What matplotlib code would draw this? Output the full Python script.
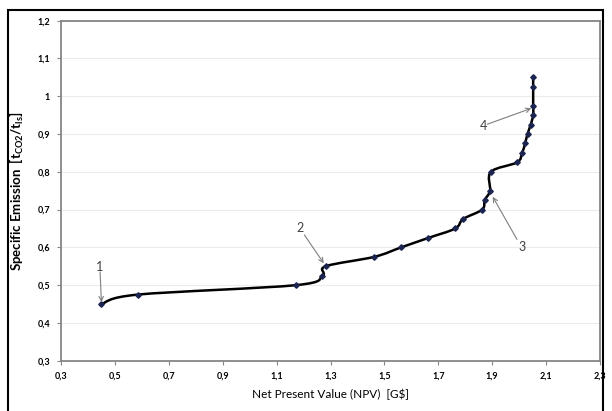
import numpy as np
import matplotlib
matplotlib.use("Agg")
import matplotlib.pyplot as plt
from matplotlib.path import Path
from matplotlib.patches import PathPatch, Rectangle
from matplotlib.ticker import FuncFormatter, FixedLocator

plt.rcParams['font.family'] = ['Lato', 'DejaVu Sans']

npv = [0.45, 0.585, 1.172, 1.27, 1.282, 1.463, 1.562, 1.663, 1.763, 1.792,
       1.863, 1.872, 1.892, 1.895, 1.992, 2.011, 2.022, 2.031, 2.043, 2.052,
       2.052, 2.052, 2.052]
emission = [0.45, 0.475, 0.5, 0.525, 0.55, 0.575, 0.6, 0.625, 0.65, 0.675,
            0.7, 0.725, 0.75, 0.8, 0.825, 0.85, 0.875, 0.9, 0.925, 0.95,
            0.975, 1.025, 1.05]

x_ticks = [0.3, 0.5, 0.7, 0.9, 1.1, 1.3, 1.5, 1.7, 1.9, 2.1, 2.3]
y_ticks = [0.3, 0.4, 0.5, 0.6, 0.7, 0.8, 0.9, 1.0, 1.1, 1.2]

labels = ['1', '2', '3', '4']
label_xy = [(0.445, 0.548), (1.186, 0.65), (2.01, 0.60), (1.869, 0.92)]
arrow_tail = [(0.445, 0.535), (1.203, 0.633), (1.992, 0.621), (1.882, 0.926)]
arrow_head = [(0.45, 0.455), (1.275, 0.558), (1.902, 0.734), (2.045, 0.968)]

fig = plt.figure(figsize=(6.12, 4.11), dpi=100)
ax = fig.add_axes([61/612, 1-360.7/411, (600-61)/612, 340/411])

ax.set_xlim(0.3, 2.3)
ax.set_ylim(0.3, 1.2)

# smooth curve (Catmull-Rom -> cubic Bezier, computed in pixel-like space)
sx = 539 / 2.0
sy = 340 / 0.9
P = np.column_stack([np.array(npv) * sx, np.array(emission) * sy])
verts = [tuple(P[0])]
codes = [Path.MOVETO]
n = len(P)
for i in range(n - 1):
    p0 = P[i - 1] if i > 0 else P[i]
    p1 = P[i]
    p2 = P[i + 1]
    p3 = P[i + 2] if i + 2 < n else P[i + 1]
    c1 = p1 + (p2 - p0) / 6.0
    c2 = p2 - (p3 - p1) / 6.0
    verts += [tuple(c1), tuple(c2), tuple(p2)]
    codes += [Path.CURVE4] * 3
verts = [(v[0] / sx, v[1] / sy) for v in verts]
path = Path(verts, codes)
ax.add_patch(PathPatch(path, facecolor='none', edgecolor='black', lw=1.8, zorder=3))
ax.plot(npv, emission, linestyle='none', marker='D', markersize=2.8,
        color='#1b2550', zorder=4)

for lab, (tx, ty), (ax0, ay0), (hx, hy) in zip(labels, label_xy, arrow_tail, arrow_head):
    ax.annotate('', xy=(hx, hy), xytext=(ax0, ay0),
                arrowprops=dict(arrowstyle='->', color='#7f7f7f', lw=0.8,
                                shrinkA=0, shrinkB=0, mutation_scale=8), zorder=5)
    ax.text(tx, ty, lab, fontsize=9, color='#404040', ha='center', va='center', zorder=5)

ax.xaxis.set_major_locator(FixedLocator(x_ticks))
ax.yaxis.set_major_locator(FixedLocator(y_ticks))

def fmt(v, pos):
    s = ('%.1f' % v)
    if s.endswith('.0'):
        s = s[:-2]
    return s.replace('.', ',')

ax.xaxis.set_major_formatter(FuncFormatter(fmt))
ax.yaxis.set_major_formatter(FuncFormatter(fmt))
ax.grid(axis='y', color='#ececec', lw=0.8)
ax.set_axisbelow(True)
for s in ax.spines.values():
    s.set_color('#868686')
    s.set_linewidth(1.3)
ax.tick_params(axis='both', colors='#868686', length=3, width=0.8, labelsize=6.5,
               labelcolor='black', pad=5)
for t in ax.get_xticklabels() + ax.get_yticklabels():
    t.set_fontweight('bold')

ax.set_xlabel('Net Present Value (NPV)  [G$]', fontsize=8.5, labelpad=6)
ax.set_ylabel(r'Specific Emission  [t$_{\mathregular{CO2}}$/t$_{\mathregular{ls}}$]',
              fontsize=9.5, fontweight='bold', labelpad=8)

# outer frame
fig.patches.append(Rectangle((8/612, -0.05), (603-8)/612, 1.05 - 10/411,
                             transform=fig.transFigure, fill=False,
                             edgecolor='black', lw=1.5))

fig.savefig('out.png', dpi=100)
